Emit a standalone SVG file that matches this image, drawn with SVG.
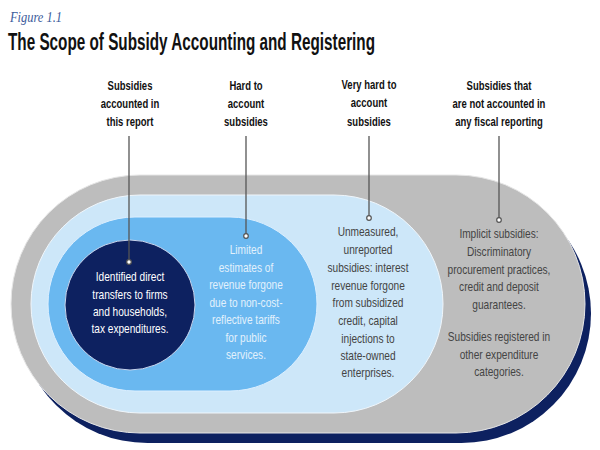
<svg xmlns="http://www.w3.org/2000/svg" width="600" height="450" viewBox="0 0 600 450">
<defs>
<style>
.hd{font-family:"Liberation Sans",Arial,sans-serif;font-weight:bold;font-size:12.5px;fill:#111;text-anchor:middle}
.bd{font-family:"Liberation Sans",Arial,sans-serif;font-size:12.5px;text-anchor:middle}
.lead{stroke:#555;stroke-width:1.3;fill:none}
.dot{fill:#fff;stroke:#555;stroke-width:1.2}
</style>
</defs>
<rect width="600" height="450" fill="#fff"/>
<text x="10" y="22" font-family="'Liberation Serif',serif" font-style="italic" font-size="14" fill="#3b5b9b" textLength="52" lengthAdjust="spacingAndGlyphs">Figure 1.1</text>
<text x="8" y="50" font-family="'Liberation Sans',Arial,sans-serif" font-weight="bold" font-size="23" fill="#111" textLength="367" lengthAdjust="spacingAndGlyphs">The Scope of Subsidy Accounting and Registering</text>

<g id="outer">
<rect x="18" y="184" width="573" height="259" rx="129.5" fill="#0d2160"/>
<rect x="11" y="175" width="574" height="258" rx="129" fill="#bdbdbd" stroke="#e6e6e6" stroke-width="1"/>
</g>
<g id="very-hard">
<rect x="31" y="195" width="412" height="218" rx="109" fill="#cde7f9" stroke="#f0f6fb" stroke-width="1"/>
</g>
<g id="hard">
<rect x="48" y="217" width="269" height="174" rx="87" fill="#6ab8f0" stroke="#dcefff" stroke-width="1"/>
</g>
<g id="accounted">
<circle cx="130" cy="305" r="65" fill="#0d2160" stroke="#c9d6ee" stroke-width="1"/>
</g>

<g id="connectors">
<line class="lead" x1="129" y1="136" x2="129" y2="262"/>
<line class="lead" x1="246" y1="136" x2="246" y2="236"/>
<line class="lead" x1="369" y1="136" x2="369" y2="218"/>
<line class="lead" x1="499" y1="136" x2="499" y2="220"/>
<circle class="dot" cx="129" cy="262" r="2.3"/>
<circle class="dot" cx="246" cy="236" r="2.3"/>
<circle class="dot" cx="369" cy="218" r="2.3"/>
<circle class="dot" cx="499" cy="220" r="2.3"/>
</g>

<g id="labels">
<g transform="translate(130 0) scale(0.76 1) translate(-130 0)">
<text class="hd" x="130" y="90">Subsidies</text>
<text class="hd" x="130" y="108">accounted in</text>
<text class="hd" x="130" y="126">this report</text>
</g>
<g transform="translate(246 0) scale(0.76 1) translate(-246 0)">
<text class="hd" x="246" y="90">Hard to</text>
<text class="hd" x="246" y="108">account</text>
<text class="hd" x="246" y="126">subsidies</text>
</g>
<g transform="translate(369 0) scale(0.76 1) translate(-369 0)">
<text class="hd" x="369" y="89">Very hard to</text>
<text class="hd" x="369" y="107">account</text>
<text class="hd" x="369" y="126">subsidies</text>
</g>
<g transform="translate(499 0) scale(0.76 1) translate(-499 0)">
<text class="hd" x="499" y="90">Subsidies that</text>
<text class="hd" x="499" y="108">are not accounted in</text>
<text class="hd" x="499" y="126">any fiscal reporting</text>
</g>
</g>

<g id="text-accounted" transform="translate(130 0) scale(0.81 1) translate(-130 0)">
<text class="bd" x="130" y="281" fill="#fff">Identified direct</text>
<text class="bd" x="130" y="299" fill="#fff">transfers to firms</text>
<text class="bd" x="130" y="316" fill="#fff">and households,</text>
<text class="bd" x="130" y="333" fill="#fff">tax expenditures.</text>
</g>
<g id="text-hard" transform="translate(246 0) scale(0.81 1) translate(-246 0)">
<text class="bd" x="246" y="254" fill="#e2f1fc">Limited</text>
<text class="bd" x="246" y="272" fill="#e2f1fc">estimates of</text>
<text class="bd" x="246" y="289" fill="#e2f1fc">revenue forgone</text>
<text class="bd" x="246" y="307" fill="#e2f1fc">due to non-cost-</text>
<text class="bd" x="246" y="324" fill="#e2f1fc">reflective tariffs</text>
<text class="bd" x="246" y="342" fill="#e2f1fc">for public</text>
<text class="bd" x="246" y="359" fill="#e2f1fc">services.</text>
</g>
<g id="text-very-hard" transform="translate(368 0) scale(0.81 1) translate(-368 0)">
<text class="bd" x="368" y="236" fill="#444">Unmeasured,</text>
<text class="bd" x="368" y="254" fill="#444">unreported</text>
<text class="bd" x="368" y="272" fill="#444">subsidies: interest</text>
<text class="bd" x="368" y="290" fill="#444">revenue forgone</text>
<text class="bd" x="368" y="307" fill="#444">from subsidized</text>
<text class="bd" x="368" y="325" fill="#444">credit, capital</text>
<text class="bd" x="368" y="343" fill="#444">injections to</text>
<text class="bd" x="368" y="360" fill="#444">state-owned</text>
<text class="bd" x="368" y="377" fill="#444">enterprises.</text>
</g>
<g id="text-not-accounted" transform="translate(499 0) scale(0.81 1) translate(-499 0)">
<text class="bd" x="499" y="238" fill="#444">Implicit subsidies:</text>
<text class="bd" x="499" y="256" fill="#444">Discriminatory</text>
<text class="bd" x="499" y="274" fill="#444">procurement practices,</text>
<text class="bd" x="499" y="291" fill="#444">credit and deposit</text>
<text class="bd" x="499" y="309" fill="#444">guarantees.</text>
<text class="bd" x="499" y="341" fill="#444">Subsidies registered in</text>
<text class="bd" x="499" y="359" fill="#444">other expenditure</text>
<text class="bd" x="499" y="376" fill="#444">categories.</text>
</g>
</svg>
